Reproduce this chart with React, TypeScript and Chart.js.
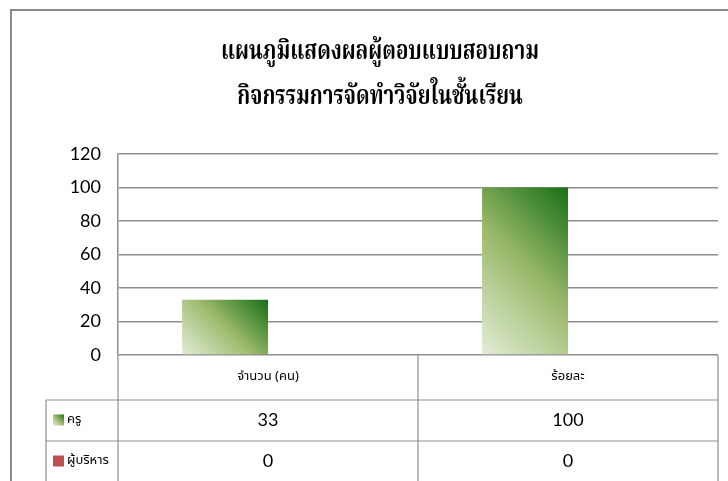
import React, { useEffect, useRef } from "react";
import { Chart, registerables } from "chart.js";

Chart.register(...registerables);

const titleLines = ["แผนภูมิแสดงผลผู้ตอบแบบสอบถาม", "กิจกรรมการจัดทำวิจัยในชั้นเรียน"];
const categories = ["จำนวน (คน)", "ร้อยละ"];
const seriesNames = ["ครู", "ผู้บริหาร"];
const teacherValues = [33, 100];
const adminValues = [0, 0];
const yMin = 0;
const yMax = 120;
const yStep = 20;

const THAI = '"Noto Sans Thai", "Noto Sans", "DejaVu Sans", Tahoma, sans-serif';
const THAI_SERIF = '"Noto Serif Thai", "Noto Serif", "DejaVu Serif", "Liberation Serif", serif';
const NUM = 'Lato, "Open Sans", sans-serif';
const GRID = "#8f8f8f";
const RED = "#c0504d";

function greenGradient(ctx: CanvasRenderingContext2D, left: number, base: number, w: number, h: number) {
  const d = (w + h) / 2;
  const g = ctx.createLinearGradient(left, base, left + d, base - d);
  g.addColorStop(0, "#e2edd6");
  g.addColorStop(0.5, "#9dba6d");
  g.addColorStop(1, "#177014");
  return g;
}

const framePlugin = {
  id: "frame",
  beforeDraw(chart: any) {
    const ctx = chart.ctx;
    ctx.save();
    ctx.fillStyle = "#ffffff";
    ctx.fillRect(0, 0, chart.width, chart.height);
    ctx.strokeStyle = "#8a8a8a";
    ctx.lineWidth = 2;
    ctx.strokeRect(11, 10, chart.width + 20, chart.height + 20);
    // title (condensed horizontally like the reference's narrow Thai face)
    ctx.fillStyle = "#000";
    ctx.textAlign = "center";
    ctx.textBaseline = "middle";
    ctx.font = `bold 27px ${THAI_SERIF}`;
    const w0 = ctx.measureText(titleLines[0]).width;
    const sx = 318 / w0;
    const cx = 380;
    ctx.translate(cx, 0);
    ctx.scale(sx, 1);
    ctx.fillText(titleLines[0], 0, 55);
    ctx.fillText(titleLines[1], 0, 100);
    ctx.restore();
  },
};

const gradientPlugin = {
  id: "barGradient",
  beforeDatasetsDraw(chart: any) {
    const meta = chart.getDatasetMeta(0);
    meta.data.forEach((el: any) => {
      const { x, y, base, width } = el.getProps(["x", "y", "base", "width"], true);
      const left = x - width / 2;
      const h = base - y;
      el.options = Object.assign({}, el.options, {
        backgroundColor: greenGradient(chart.ctx, left, base, width, h),
      });
    });
  },
};

const tablePlugin = {
  id: "dataTable",
  afterDraw(chart: any) {
    const ctx = chart.ctx;
    const area = chart.chartArea;
    const xs = chart.scales.x;
    const n = categories.length;
    const centers = categories.map((_, i) => xs.getPixelForValue(i));
    const bounds: number[] = [area.left];
    for (let i = 1; i < n; i++) bounds.push((centers[i - 1] + centers[i]) / 2);
    bounds.push(area.right);

    const top = area.bottom;
    const headerH = 45;
    const rowH = 41;
    const legendLeft = 46;
    const rowTops = [top + headerH, top + headerH + rowH];
    const bottom = chart.height + 5;

    ctx.save();
    ctx.strokeStyle = GRID;
    ctx.lineWidth = 1.2;
    ctx.beginPath();
    bounds.forEach((bx) => {
      ctx.moveTo(bx, top);
      ctx.lineTo(bx, bottom);
    });
    ctx.moveTo(legendLeft, rowTops[0]);
    ctx.lineTo(legendLeft, bottom);
    rowTops.forEach((ry) => {
      ctx.moveTo(legendLeft, ry);
      ctx.lineTo(area.right, ry);
    });
    ctx.stroke();

    ctx.fillStyle = "#000";
    ctx.textAlign = "center";
    ctx.textBaseline = "middle";
    ctx.font = `13px ${THAI}`;
    categories.forEach((c, i) => ctx.fillText(c, centers[i], top + headerH / 2));

    const rows = [teacherValues, adminValues];
    rows.forEach((vals, r) => {
      const cy = rowTops[r] + rowH / 2;
      ctx.fillStyle = "#000";
      ctx.font = `18px ${NUM}`;
      ctx.textAlign = "center";
      vals.forEach((v, i) => ctx.fillText(String(v), centers[i], cy));
      const sx = 53, sy = cy - 6, ss = 11;
      ctx.fillStyle = r === 0 ? greenGradient(ctx, sx, sy + ss, ss, ss) : RED;
      ctx.fillRect(sx, sy, ss, ss);
      ctx.fillStyle = "#000";
      ctx.textAlign = "left";
      ctx.font = `13px ${THAI}`;
      ctx.fillText(seriesNames[r], 67, cy);
    });
    ctx.restore();
  },
};

export default function App() {
  const ref = useRef<HTMLCanvasElement | null>(null);
  useEffect(() => {
    if (!ref.current) return;
    const chart = new Chart(ref.current, {
      type: "bar",
      data: {
        labels: categories,
        datasets: [
          {
            label: seriesNames[0],
            data: teacherValues,
            backgroundColor: "#9dba6d",
            borderWidth: 0,
            categoryPercentage: 0.573,
            barPercentage: 1,
          },
          {
            label: seriesNames[1],
            data: adminValues,
            backgroundColor: RED,
            borderWidth: 0,
            categoryPercentage: 0.573,
            barPercentage: 1,
          },
        ],
      },
      options: {
        animation: false,
        responsive: false,
        devicePixelRatio: 1,
        layout: { padding: { top: 154, left: 0, right: 10, bottom: 126 } },
        plugins: {
          legend: { display: false },
          title: { display: false },
          tooltip: { enabled: false },
        },
        scales: {
          x: { display: false },
          y: {
            min: yMin,
            max: yMax,
            ticks: {
              stepSize: yStep,
              padding: 17,
              color: "#000",
              font: { family: NUM, size: 18 },
            },
            grid: { color: GRID, lineWidth: 1.5, drawTicks: false },
            border: { display: true, color: GRID, width: 1.5 },
            afterFit(scale: any) {
              scale.width = 118;
            },
          },
        },
      },
      plugins: [framePlugin, gradientPlugin, tablePlugin],
    });
    return () => chart.destroy();
  }, []);
  return (
    <div style={{ position: "fixed", left: 0, top: 0, width: 728, height: 481 }}>
      <canvas ref={ref} width={728} height={481} style={{ display: "block" }} />
    </div>
  );
}
